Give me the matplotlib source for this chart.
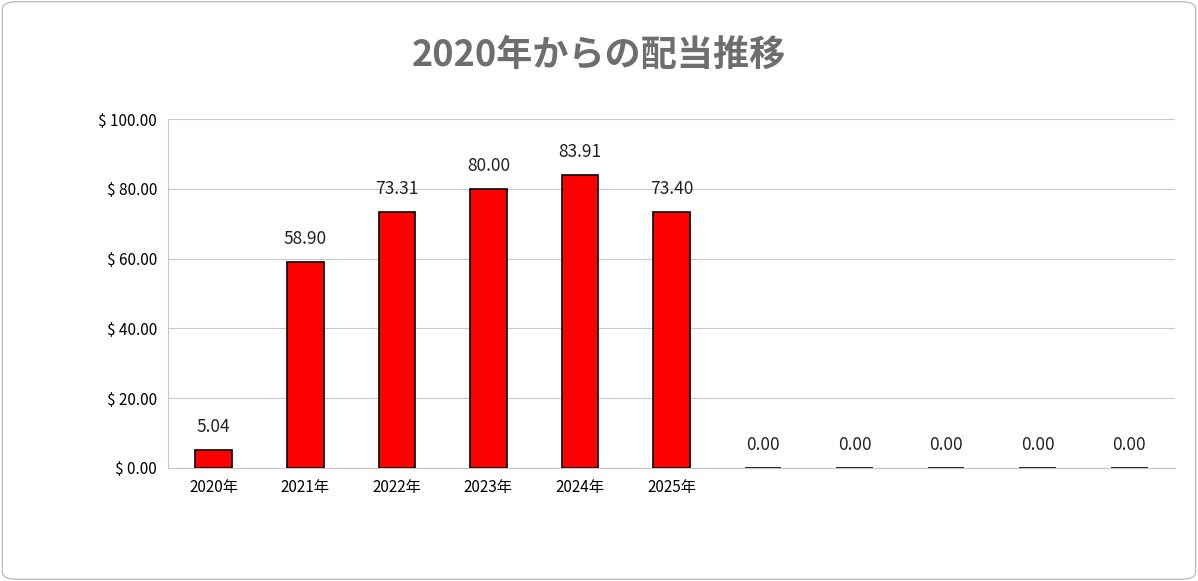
import matplotlib
matplotlib.use("Agg")
import matplotlib.pyplot as plt
from matplotlib.patches import FancyBboxPatch

plt.rcParams['font.family'] = ['Noto Sans CJK JP', 'DejaVu Sans']

categories = ["2020年", "2021年", "2022年", "2023年", "2024年", "2025年", "", "", "", "", ""]
values = [5.04, 58.90, 73.31, 80.00, 83.91, 73.40, 0, 0, 0, 0, 0]
yticks = [0, 20, 40, 60, 80, 100]

fig = plt.figure(figsize=(11.98, 5.81), dpi=100)
fig.patch.set_facecolor("white")
border = FancyBboxPatch((0.002, 0.003), 0.996, 0.994, boxstyle="round,pad=0,rounding_size=0.012",
                        transform=fig.transFigure, facecolor="none", edgecolor="#bfbfbf", lw=1, zorder=10)
fig.patches.append(border)
ax = fig.add_axes([168/1198, 1-468/581, (1175-168)/1198, (468-119)/581])
ax.set_facecolor("none")
x = list(range(len(categories)))
ax.bar(x, values, width=0.4, color="#ff0000", edgecolor="black", linewidth=1.2, zorder=3)
for xi, v in zip(x, values):
    ax.text(xi, v + 4, f"{v:.2f}", ha="center", va="bottom", fontsize=12.5, color="#222222")
ax.set_xlim(-0.5, len(categories) - 0.5)
ax.set_ylim(0, 100)
ax.set_yticks(yticks)
ax.set_yticklabels([f"$ {t:.2f}" for t in yticks], fontsize=11)
ax.set_xticks(x)
ax.set_xticklabels(categories, fontsize=11)
ax.tick_params(length=0, pad=8)
ax.grid(axis="y", color="#c8c8c8", lw=0.8, zorder=0)
for s in ["top", "right"]:
    ax.spines[s].set_visible(False)
ax.spines["left"].set_color("#c8c8c8")
ax.spines["bottom"].set_color("#c8c8c8")
fig.text(0.5, 1-55/581, "2020年からの配当推移", ha="center", va="center", fontsize=26,
         fontweight="bold", color="#6e6e6e")
fig.savefig("out.png", dpi=100)
